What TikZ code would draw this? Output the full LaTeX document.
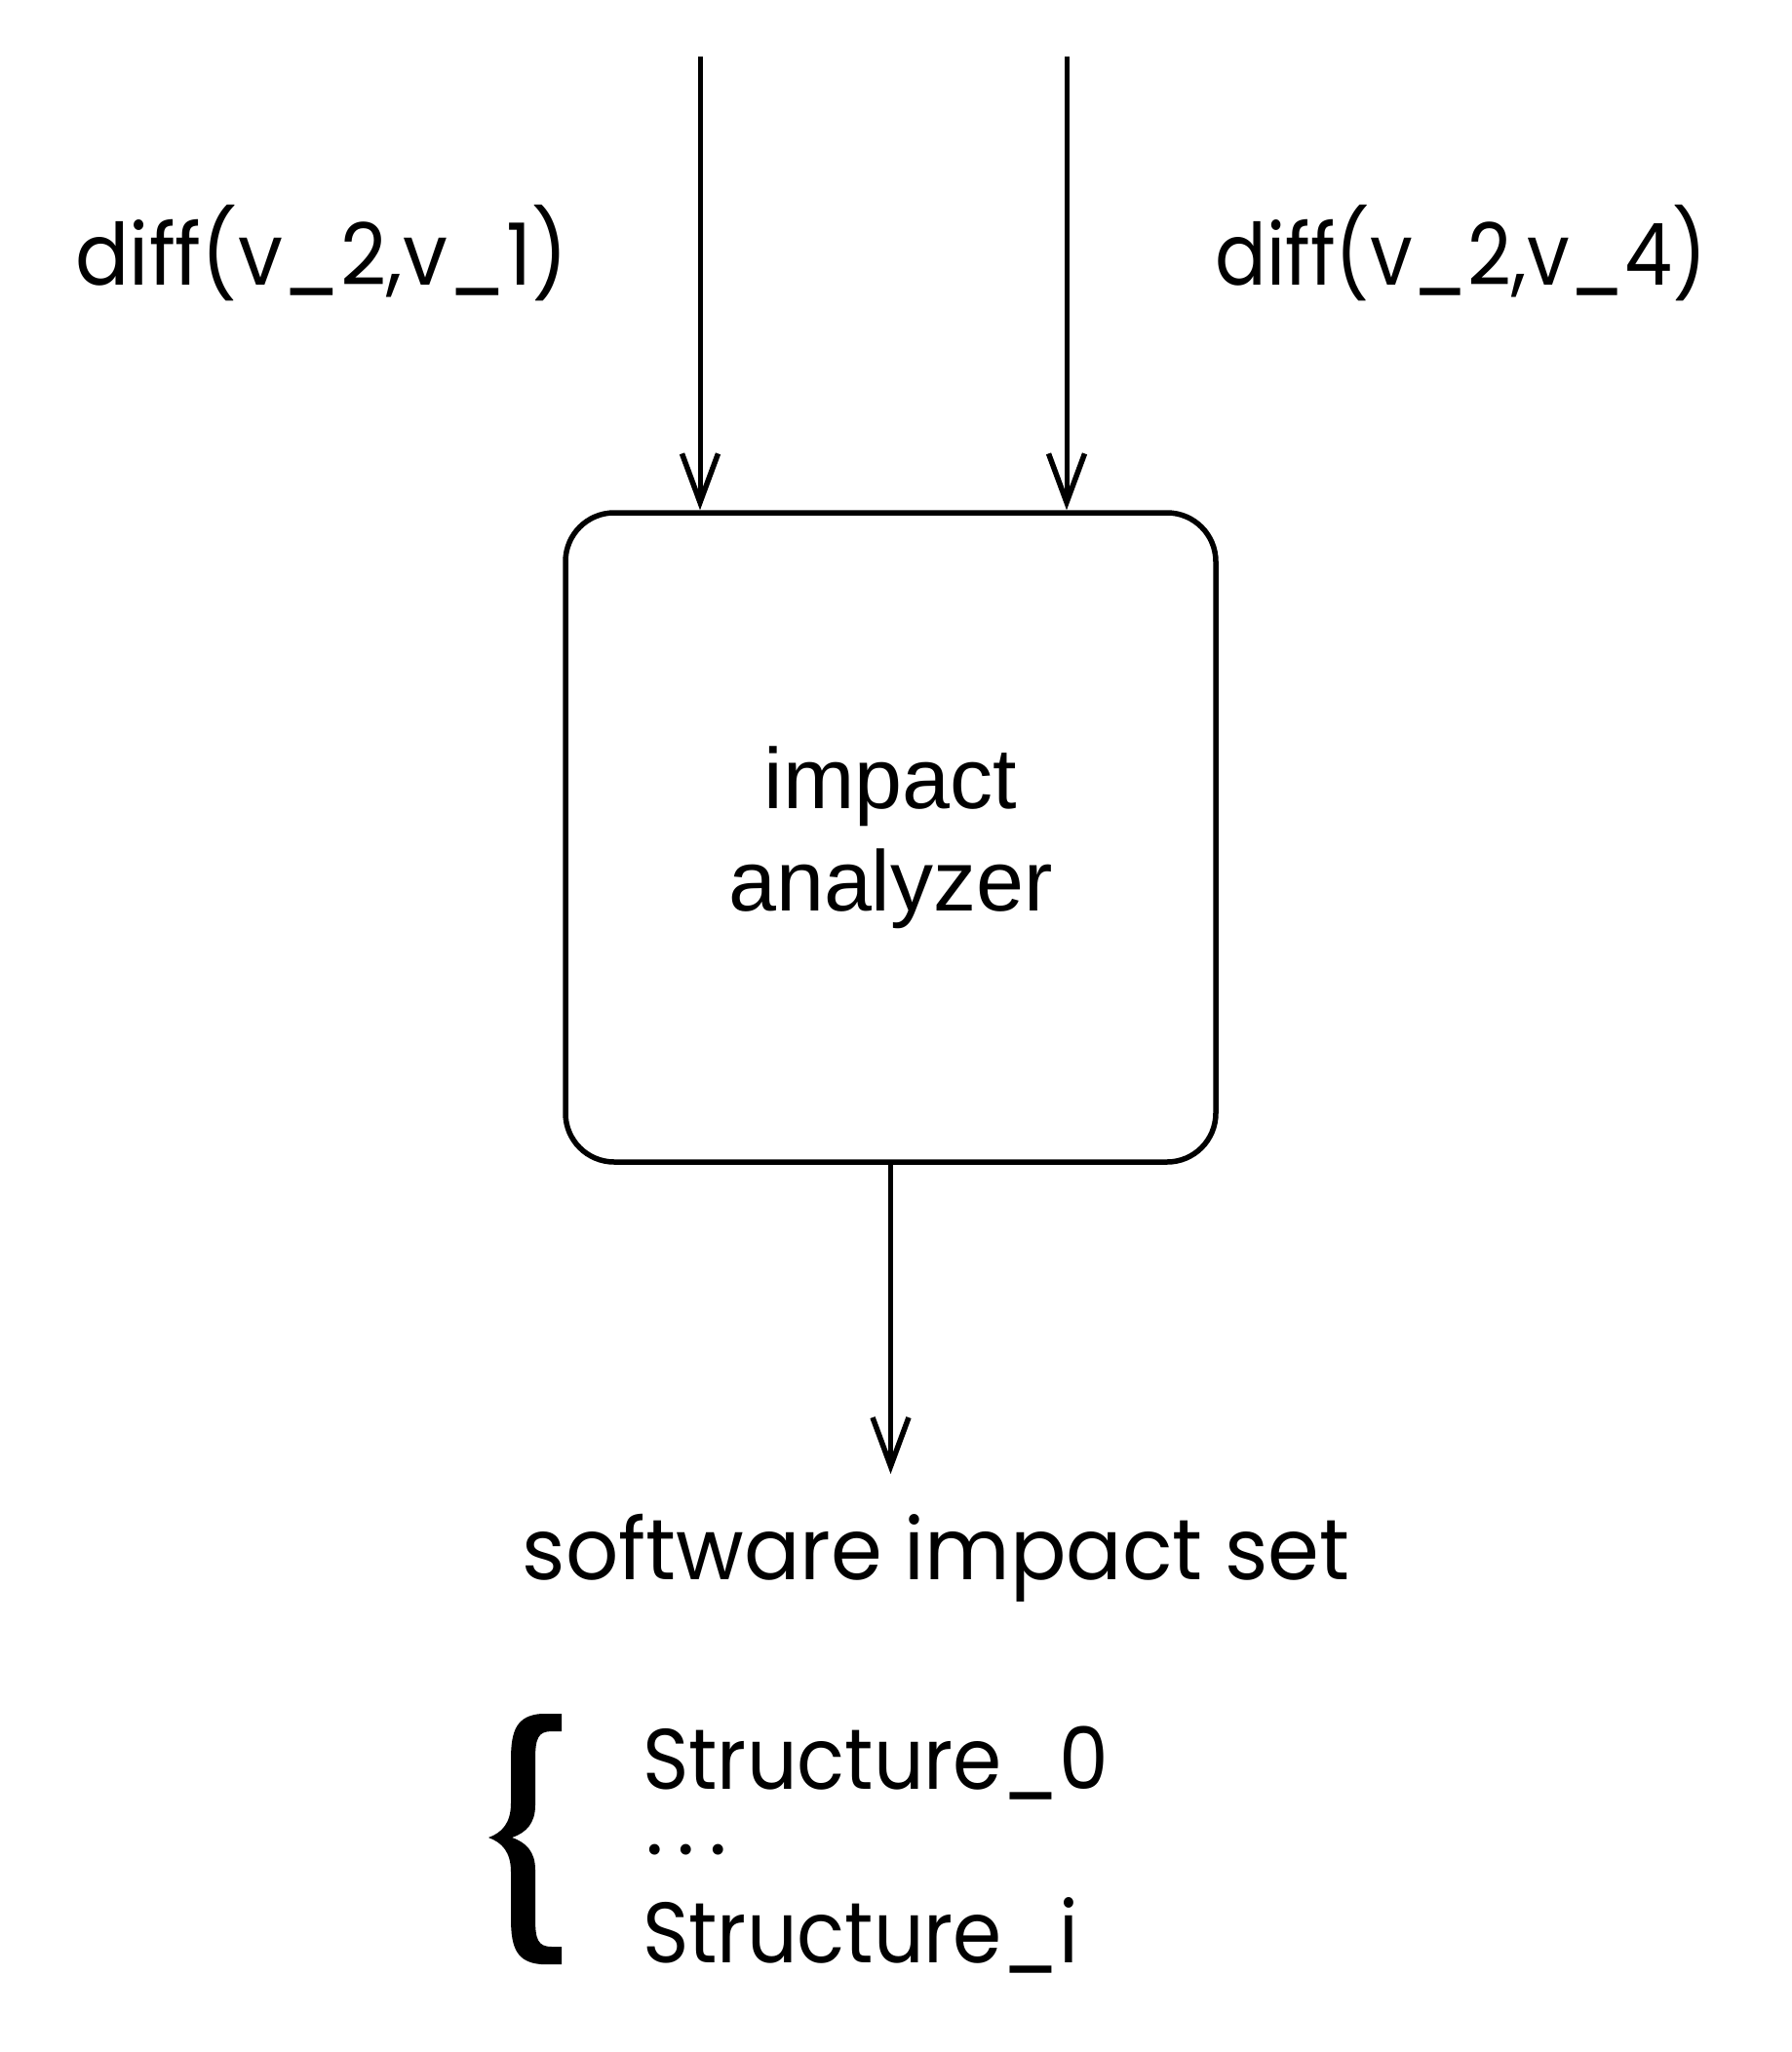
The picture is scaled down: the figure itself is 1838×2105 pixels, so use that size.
\documentclass[tikz,border=0pt]{standalone}
\usepackage{fontspec}
\setmainfont{Poppins}
\newfontfamily\helv{Liberation Sans}
\usetikzlibrary{arrows.meta}
\tikzset{
  arr/.style={line width=5pt,-{Straight Barb[length=50pt,width=37pt,line width=5.5pt]}},
  gothic/.style={font=\fontsize{88}{105}\selectfont, inner sep=0pt, text depth=0pt},
  procbox/.style={draw, line width=5.5pt, rounded corners=50pt, minimum width=667pt, minimum height=666pt, inner sep=0pt, align=center, font=\helv\fontsize{88}{105}\selectfont}
}
\begin{document}
\begin{tikzpicture}[x=1pt,y=-1pt]
\path[use as bounding box] (0,0) rectangle (1838,2105);
\node[procbox] (box) at (913.5,859) {impact\\analyzer};
\coordinate (tl) at (718,58);
\coordinate (tr) at (1094,58);
\coordinate (bo) at (913.5,1512);
\draw[arr] (tl) -- (box.north -| tl);
\draw[arr] (tr) -- (box.north -| tr);
\draw[arr] (box.south) -- (bo);
\node[gothic, anchor=base] (d1) at (330,292) {\scalebox{0.93}[1]{diff(v\_2,v\_1)}};
\node[gothic, anchor=base] (d2) at (1499,292) {\scalebox{0.885}[1]{diff(v\_2,v\_4)}};
\node[gothic, anchor=base] (sis) at (960,1620) {\scalebox{0.966}[1]{software impact set}};
\node[gothic, anchor=base west] (s0) at (659,1835) {\scalebox{0.917}[1]{Structure\_0}};
\node[gothic, anchor=base west] (dots) at (662,1902) {.\kern14pt.\kern14pt.};
\node[gothic, anchor=base west] (si) at (659,2013) {\scalebox{0.917}[1]{Structure\_i}};
\fill (576,1758) -- (555,1758) .. controls (530,1760) and (524,1775) .. (524,1805) -- (524,1850)
  .. controls (524,1870) and (515,1880) .. (501,1885)
  .. controls (515,1890) and (524,1900) .. (524,1920) -- (524,1968)
  .. controls (524,1998) and (530,2013) .. (555,2015) -- (576,2015) -- (576,1997) -- (566,1997)
  .. controls (552,1997) and (549,1990) .. (549,1968) -- (549,1918)
  .. controls (549,1900) and (540,1890) .. (525,1885)
  .. controls (540,1880) and (549,1870) .. (549,1852) -- (549,1805)
  .. controls (549,1783) and (552,1776) .. (566,1776) -- (576,1776) -- cycle;
\end{tikzpicture}
\end{document}
